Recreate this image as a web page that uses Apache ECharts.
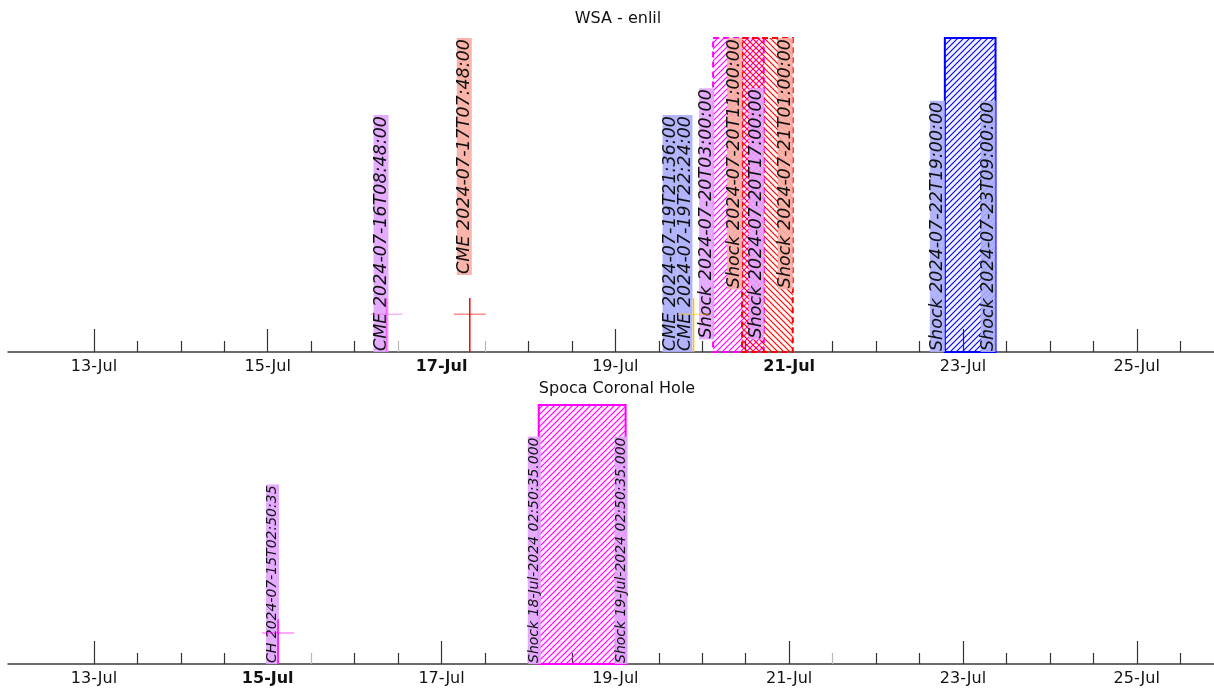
<!DOCTYPE html>
<html><head><meta charset="utf-8">
<script src="https://cdn.jsdelivr.net/npm/echarts@6/dist/echarts.min.js"></script>
<style>html,body{margin:0;padding:0;background:#fff}#c{width:1214px;height:693px}</style>
</head><body><div id="c"></div>
<script>
// ---------- data ----------
const axisStart = '2024-07-12T00:16:00';
const axisEnd = '2024-07-25T21:20:00';
const majorTickTimes = ['2024-07-13T00:00:00','2024-07-15T00:00:00','2024-07-17T00:00:00','2024-07-19T00:00:00','2024-07-21T00:00:00','2024-07-23T00:00:00','2024-07-25T00:00:00'];
const majorTickLabels = ['13-Jul','15-Jul','17-Jul','19-Jul','21-Jul','23-Jul','25-Jul'];
const boldTopLabels = ['17-Jul','21-Jul'];
const boldBottomLabels = ['15-Jul'];
const grayTopTicks = ['2024-07-16T12:00:00','2024-07-17T12:00:00'];
const grayBottomTicks = ['2024-07-15T12:00:00','2024-07-21T12:00:00'];

// WSA - enlil
const wsaCmeTimes = ['2024-07-16T08:48:00','2024-07-17T07:48:00','2024-07-19T21:36:00'];
const wsaCmeLevel = [0.12, 0.12, 0.12];
const wsaShockStart = ['2024-07-20T03:00:00','2024-07-20T11:00:00','2024-07-22T19:00:00'];
const wsaShockEnd   = ['2024-07-20T17:00:00','2024-07-21T01:00:00','2024-07-23T09:00:00'];
const wsaLabelTimes = ['2024-07-16T08:48:00','2024-07-17T07:48:00','2024-07-19T21:36:00','2024-07-19T22:24:00',
  '2024-07-20T03:00:00','2024-07-20T11:00:00','2024-07-20T17:00:00','2024-07-21T01:00:00','2024-07-22T19:00:00','2024-07-23T09:00:00'];
const wsaLabelTexts = ['CME 2024-07-16T08:48:00','CME 2024-07-17T07:48:00','CME 2024-07-19T21:36:00','CME 2024-07-19T22:24:00',
  'Shock 2024-07-20T03:00:00','Shock 2024-07-20T11:00:00','Shock 2024-07-20T17:00:00','Shock 2024-07-21T01:00:00',
  'Shock 2024-07-22T19:00:00','Shock 2024-07-23T09:00:00'];

// Spoca Coronal Hole
const chTimes = ['2024-07-15T02:50:35'];
const chLevel = [0.12];
const chShockStart = ['2024-07-18T02:50:35'];
const chShockEnd   = ['2024-07-19T02:50:35'];
const chLabelTimes = ['2024-07-15T02:50:35','2024-07-18T02:50:35','2024-07-19T02:50:35'];
const chLabelTexts = ['CH 2024-07-15T02:50:35','Shock 18-Jul-2024 02:50:35.000','Shock 19-Jul-2024 02:50:35.000'];

// ---------- styles / layout ----------
const toMs = s => Date.parse(s + 'Z');
const VIOLET = 'rgba(226,164,255,0.92)', SALMON = 'rgba(250,174,162,0.92)', BLUE = 'rgba(170,174,250,0.92)';
const FONT = '"DejaVu Sans", sans-serif';
const wsaLabelLayout = [
  {anchor:'bottom', at:0,    dx:2,   bg:VIOLET},
  {anchor:'top',    at:1,    dx:2,   bg:SALMON},
  {anchor:'bottom', at:0,    dx:-16, bg:BLUE},
  {anchor:'bottom', at:0,    dx:-4,  bg:BLUE},
  {anchor:'bottom', at:0.04, dx:1,   bg:VIOLET},
  {anchor:'top',    at:1,    dx:0,   bg:SALMON},
  {anchor:'bottom', at:0.04, dx:0,   bg:VIOLET},
  {anchor:'top',    at:1,    dx:0,   bg:SALMON},
  {anchor:'bottom', at:0,    dx:0,   bg:BLUE},
  {anchor:'bottom', at:0,    dx:0,   bg:BLUE}
];
const chLabelLayout = [
  {anchor:'bottom', at:0, dx:1, bg:VIOLET},
  {anchor:'bottom', at:0, dx:2, bg:VIOLET},
  {anchor:'bottom', at:0, dx:2, bg:VIOLET}
];
const wsaMarkerColors = ['#ee66ee', '#ff0000', '#ffc400'];
const chMarkerColors = ['#ff00ff'];
const wsaRegionStyles = [
  {color:'#ff00ff', dir:'/',  dash:[6,4], bgFill:'rgba(255,0,255,0.04)'},
  {color:'#ff0000', dir:'\\', dash:[6,4], bgFill:'rgba(255,0,0,0.04)'},
  {color:'#0000ff', dir:'/',  dash:null,  bgFill:'rgba(0,0,255,0.05)'}
];
const chRegionStyles = [
  {color:'#ff00ff', dir:'/', dash:null, bgFill:'rgba(255,0,255,0.08)'}
];

function hatch(color, dir, size, lw) {
  const c = document.createElement('canvas');
  c.width = c.height = size;
  const g = c.getContext('2d');
  g.strokeStyle = color; g.lineWidth = lw;
  g.beginPath();
  if (dir === '/') {
    g.moveTo(-1, 1); g.lineTo(1, -1);
    g.moveTo(0, size); g.lineTo(size, 0);
    g.moveTo(size - 1, size + 1); g.lineTo(size + 1, size - 1);
  } else {
    g.moveTo(-1, size - 1); g.lineTo(1, size + 1);
    g.moveTo(0, 0); g.lineTo(size, size);
    g.moveTo(size - 1, -1); g.lineTo(size + 1, 1);
  }
  g.stroke();
  return c;
}

const H12 = 12 * 3600e3;
const majorMs = majorTickTimes.map(toMs);
const minorMs = [];
for (let t = majorMs[0]; t <= majorMs[majorMs.length - 1] + H12; t += H12) {
  if (majorMs.indexOf(t) < 0) minorMs.push(t);
}
const MON = ['Jan','Feb','Mar','Apr','May','Jun','Jul','Aug','Sep','Oct','Nov','Dec'];
function fmtDay(v) {
  const d = new Date(v);
  return String(d.getUTCDate()).padStart(2, '0') + '-' + MON[d.getUTCMonth()];
}

function xAxes(gi, boldList, grayList) {
  const boldMs = majorMs.filter((t, i) => boldList.indexOf(majorTickLabels[i]) >= 0);
  const plainMajor = majorMs.filter(t => boldMs.indexOf(t) < 0);
  const grayMinor = grayList.map(toMs);
  const darkMinor = minorMs.filter(t => grayMinor.indexOf(t) < 0);
  const base = {gridIndex: gi, type: 'value', position: 'bottom', offset: 0,
    min: toMs(axisStart), max: toMs(axisEnd), splitLine: {show: false}};
  return [Object.assign({}, base, {
    axisLine: {show: true, onZero: false, lineStyle: {color: '#3a3a3a', width: 1.5}},
    axisTick: {show: true, inside: true, length: 23, customValues: plainMajor, lineStyle: {color: '#333', width: 1.2}},
    axisLabel: {
      customValues: majorMs, margin: 7, color: '#111', fontSize: 16, fontFamily: FONT,
      formatter: v => {
        const i = majorMs.indexOf(v);
        const s = i >= 0 ? majorTickLabels[i] : fmtDay(v);
        return boldList.indexOf(s) >= 0 ? '{b|' + s + '}' : s;
      },
      rich: {b: {fontWeight: 'bold', fontSize: 16, fontFamily: FONT, color: '#111'}}
    }
  }), Object.assign({}, base, {
    axisLine: {show: false, onZero: false},
    axisTick: {show: true, inside: true, length: 11, customValues: darkMinor, lineStyle: {color: '#333', width: 1.2}},
    axisLabel: {show: false}
  }), Object.assign({}, base, {
    axisLine: {show: false, onZero: false},
    axisTick: {show: true, inside: true, length: 11, customValues: grayMinor, lineStyle: {color: '#b8b8b8', width: 1.2}},
    axisLabel: {show: false}
  })];
}

function regionSeries(gi, starts, ends, styles) {
  return {
    type: 'custom', xAxisIndex: gi * 3, yAxisIndex: gi, z: 2, clip: false,
    data: starts.map((s, i) => [toMs(s), toMs(ends[i])]),
    encode: {x: [0, 1]},
    renderItem: (params, api) => {
      const st = styles[params.dataIndex];
      const p0 = api.coord([api.value(0), 1]);
      const p1 = api.coord([api.value(1), 0]);
      const shape = {x: p0[0], y: p0[1], width: p1[0] - p0[0], height: p1[1] - p0[1]};
      return {type: 'group', children: [
        {type: 'rect', shape: shape, style: {fill: st.bgFill}},
        {type: 'rect', shape: shape, style: {fill: {image: hatch(st.color, st.dir, 6, 1.1), repeat: 'repeat'}}},
        {type: 'rect', shape: shape, style: {fill: 'none', stroke: st.color, lineWidth: 2, lineDash: st.dash}}
      ]};
    }
  };
}

function markerSeries(gi, times, levels, colors) {
  return {
    type: 'custom', xAxisIndex: gi * 3, yAxisIndex: gi, z: 6, clip: false,
    data: times.map((t, i) => [toMs(t), levels[i]]),
    renderItem: (params, api) => {
      const c = colors[params.dataIndex];
      const b = api.coord([api.value(0), 0]);
      const top = api.coord([api.value(0), 0.172]);
      const m = api.coord([api.value(0), api.value(1)]);
      return {type: 'group', children: [
        {type: 'line', shape: {x1: b[0], y1: b[1], x2: top[0], y2: top[1]}, style: {stroke: c, lineWidth: 1.5}},
        {type: 'line', shape: {x1: m[0] - 16, y1: m[1], x2: m[0] + 16, y2: m[1]}, style: {stroke: c, lineWidth: 1.5, opacity: 0.45}}
      ]};
    }
  };
}

function labelSeries(gi, times, texts, layout, fontSize, lh) {
  return {
    type: 'custom', xAxisIndex: gi * 3, yAxisIndex: gi, z: 5, clip: false,
    data: times.map(t => [toMs(t), 0]),
    renderItem: (params, api) => {
      const L = layout[params.dataIndex];
      const p = api.coord([api.value(0), L.at]);
      return {
        type: 'text', x: p[0] + L.dx, y: p[1], rotation: Math.PI / 2,
        style: {
          text: texts[params.dataIndex], fill: '#111',
          font: 'italic ' + fontSize + 'px ' + FONT,
          backgroundColor: L.bg, padding: [0, 1, 0, 1], lineHeight: lh,
          align: L.anchor === 'bottom' ? 'left' : 'right', verticalAlign: 'bottom'
        }
      };
    }
  };
}

const chart = echarts.init(document.getElementById('c'), null, {renderer: 'canvas'});
chart.setOption({
  animation: false,
  backgroundColor: '#fff',
  title: [
    {text: 'WSA - enlil', left: 613, top: 6, textAlign: 'center', textStyle: {fontSize: 16, fontWeight: 'normal', fontFamily: FONT, color: '#111'}},
    {text: 'Spoca Coronal Hole', left: 612, top: 376, textAlign: 'center', textStyle: {fontSize: 16, fontWeight: 'normal', fontFamily: FONT, color: '#111'}}
  ],
  grid: [
    {left: 8, right: 0, top: 38, height: 314, containLabel: false},
    {left: 8, right: 0, top: 405, height: 259, containLabel: false}
  ],
  xAxis: [...xAxes(0, boldTopLabels, grayTopTicks), ...xAxes(1, boldBottomLabels, grayBottomTicks)],
  yAxis: [
    {gridIndex: 0, type: 'value', min: 0, max: 1, show: false},
    {gridIndex: 1, type: 'value', min: 0, max: 1, show: false}
  ],
  series: [
    regionSeries(0, wsaShockStart, wsaShockEnd, wsaRegionStyles),
    labelSeries(0, wsaLabelTimes, wsaLabelTexts, wsaLabelLayout, 17.5, 15),
    markerSeries(0, wsaCmeTimes, wsaCmeLevel, wsaMarkerColors),
    regionSeries(1, chShockStart, chShockEnd, chRegionStyles),
    labelSeries(1, chLabelTimes, chLabelTexts, chLabelLayout, 14, 13),
    markerSeries(1, chTimes, chLevel, chMarkerColors)
  ]
});
</script></body></html>
